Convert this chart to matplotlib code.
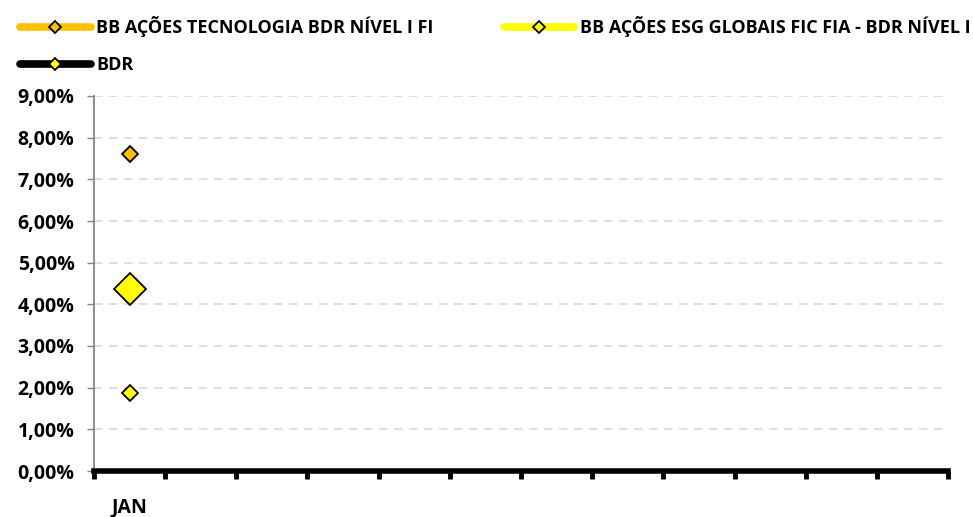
import numpy as np
import matplotlib.pyplot as plt
from matplotlib.ticker import FuncFormatter, FixedLocator

plt.rcParams['font.family'] = ['Open Sans', 'DejaVu Sans']
plt.rcParams['font.weight'] = 'bold'

# data
months = ['JAN', '', '', '', '', '', '', '', '', '', '', '']
tecnologia = [7.62] + [np.nan] * 11
esg = [4.38] + [np.nan] * 11
bdr = [1.88] + [np.nan] * 11
y_ticks = [0, 1, 2, 3, 4, 5, 6, 7, 8, 9]

fig = plt.figure(figsize=(9.73, 5.17), dpi=100)
ax = fig.add_axes([94 / 973, 46 / 517, 854 / 973, 375 / 517])

x = np.arange(len(months))
l1, = ax.plot(x, tecnologia, color='#FFC000', lw=4.5, marker='D', ms=8,
              mfc='#FFC000', mec='black', mew=1.3, label='BB AÇÕES TECNOLOGIA BDR NÍVEL I FI')
l2, = ax.plot(x, esg, color='#FFFF00', lw=4.5, marker='D', ms=16,
              mfc='#FFFF00', mec='black', mew=1.3, label='BB AÇÕES ESG GLOBAIS FIC FIA - BDR NÍVEL I')
l3, = ax.plot(x, bdr, color='black', lw=4.5, marker='D', ms=8,
              mfc='#FFFF00', mec='black', mew=1.3, label='BDR')

ax.set_xlim(-0.5, len(months) - 0.5)
ax.set_ylim(0, 9)
ax.set_yticks(y_ticks)
ax.yaxis.set_major_formatter(FuncFormatter(lambda v, p: f'{v:.2f}%'.replace('.', ',')))
ax.grid(axis='y', color='#D9D9D9', ls=(0, (5, 4)), lw=1.2)
ax.set_axisbelow(True)

ax.set_xticks(x)
ax.set_xticklabels(months)
ax.xaxis.set_minor_locator(FixedLocator(np.arange(-0.5, len(months), 1)))
ax.tick_params(axis='x', which='major', length=0, pad=19, labelsize=14)
ax.tick_params(axis='x', which='minor', length=6, width=3.5, direction='out', color='black')
ax.tick_params(axis='y', length=5, width=1, color='#868686', labelsize=14, pad=9)

for s in ['top', 'right']:
    ax.spines[s].set_visible(False)
ax.spines['left'].set_color('#868686')
ax.spines['left'].set_linewidth(1.3)
ax.spines['bottom'].set_color('black')
ax.spines['bottom'].set_linewidth(4)

leg = fig.legend(handles=[l1, l3, l2], loc='upper left', bbox_to_anchor=(0.004, 1.0),
                 ncol=2, frameon=False, handlelength=3.9, handletextpad=0.3,
                 labelspacing=1.05, columnspacing=3.9, fontsize=13)
for h in leg.legend_handles:
    h.set_markersize(6)
    h.set_linewidth(5.5)
    h.set_solid_capstyle('round')
    h.set_markerfacecolor('none' if h.get_color() != 'black' else '#FFFF00')

fig.savefig('out.png', dpi=100)
